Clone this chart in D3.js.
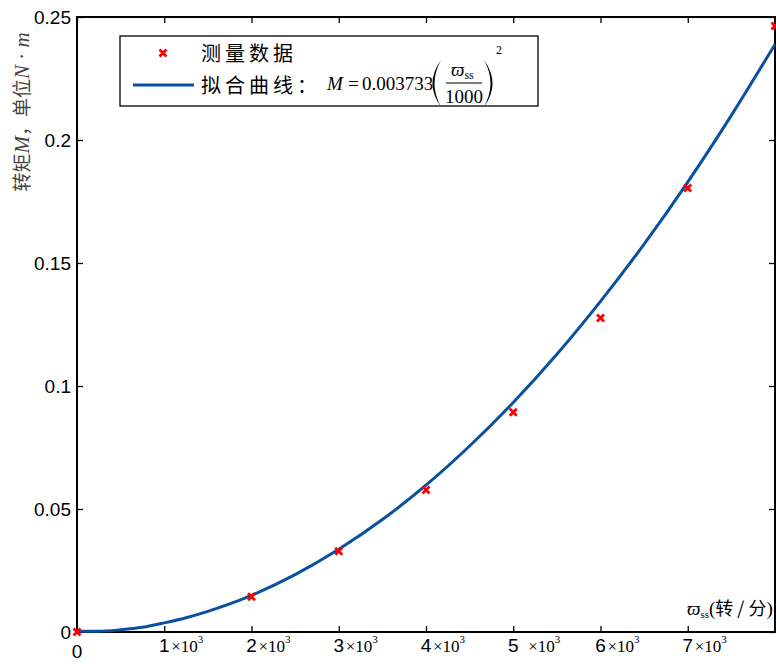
<!DOCTYPE html>
<html><head><meta charset="utf-8">
<script src="https://cdn.jsdelivr.net/npm/d3@7"></script>
<style>body{margin:0;background:#fff}svg{display:block}</style>
</head><body>
<script>
// measured data
const measSpeed = [0, 2000, 3000, 4000, 5000, 6000, 7000, 8000];
const measTorque = [0, 0.0143, 0.0328, 0.0577, 0.0893, 0.1276, 0.1805, 0.2463];
// fitted curve
const fitSpeed = [0, 250, 500, 750, 1000, 1250, 1500, 1750, 2000, 2500, 3000, 3500, 4000, 4500, 5000, 5500, 6000, 6500, 7000, 7500, 8000];
const fitTorque = [0.0003, 0.0003, 0.0009, 0.0019, 0.0037, 0.0058, 0.0084, 0.0114, 0.0149, 0.0233, 0.0336, 0.0457, 0.0597, 0.0756, 0.0933, 0.1129, 0.1344, 0.1577, 0.1829, 0.2100, 0.2389];
const xTicks = [0, 1000, 2000, 3000, 4000, 5000, 6000, 7000, 8000];
const xTickLabels = ["0", "1", "2", "3", "4", "5", "6", "7"];
const yTicks = [0, 0.05, 0.1, 0.15, 0.2, 0.25];
const yTickLabels = ["0", "0.05", "0.1", "0.15", "0.2", "0.25"];

const W = 776, H = 664;
const svg = d3.select("body").append("svg").attr("width", W).attr("height", H);
const x = d3.scaleLinear().domain([0, 8000]).range([77, 775]);
const y = d3.scaleLinear().domain([0, 0.25]).range([632, 17]);
const serif = "Liberation Serif, Times New Roman, serif";
const sans = "Liberation Sans, Arial, sans-serif";
const cjk = "Noto Sans CJK SC";

// axes with inward ticks
const axStyle = g => { g.select(".domain").remove(); g.selectAll("line").attr("stroke", "#000").attr("stroke-width", 1.3); g.selectAll("text").remove(); };
svg.append("g").attr("transform", `translate(0,${y(0)})`).call(d3.axisBottom(x).tickValues(xTicks).tickSize(-6)).call(axStyle);
svg.append("g").attr("transform", `translate(0,${y(0.25)})`).call(d3.axisTop(x).tickValues(xTicks).tickSize(-6)).call(axStyle);
svg.append("g").attr("transform", `translate(${x(0)},0)`).call(d3.axisLeft(y).tickValues(yTicks).tickSize(-6)).call(axStyle);
svg.append("g").attr("transform", `translate(${x(8000)},0)`).call(d3.axisRight(y).tickValues(yTicks).tickSize(-6)).call(axStyle);

// frame
svg.append("rect").attr("x", x(0)).attr("y", y(0.25)).attr("width", x(8000) - x(0)).attr("height", y(0) - y(0.25))
  .attr("fill", "none").attr("stroke", "#000").attr("stroke-width", 2);

// y tick labels
svg.append("g").selectAll("text").data(yTicks).join("text")
  .attr("x", 71).attr("y", d => y(d)).attr("dy", "0.38em").attr("text-anchor", "end")
  .attr("font-family", sans).attr("font-size", 19).attr("fill", "#000")
  .text((d, i) => yTickLabels[i]);

// x tick labels
const xl = svg.append("g").selectAll("g").data(xTickLabels).join("g")
  .attr("transform", (d, i) => `translate(${x(xTicks[i])},${i === 0 ? 658 : 652})`);
xl.append("text").attr("text-anchor", "middle")
  .attr("font-family", sans).attr("font-size", 19).attr("fill", "#000")
  .text(d => d);
xl.filter((d, i) => i > 0).append("text").attr("x", d => d === "5" ? 15 : 7)
  .attr("font-family", serif).attr("font-size", 17).attr("fill", "#000")
  .call(t => { t.append("tspan").text("×10"); t.append("tspan").attr("dy", -9).attr("font-size", 11).text("3"); });

// fit curve
const line = d3.line().x((d, i) => x(fitSpeed[i])).y(d => y(d)).curve(d3.curveMonotoneX);
svg.append("path").datum(fitTorque).attr("d", line).attr("fill", "none").attr("stroke", "#0a50a0").attr("stroke-width", 3);

// markers
const mk = (g, s) => g.append("path").attr("d", `M${-s},${-s}L${s},${s}M${-s},${s}L${s},${-s}`)
  .attr("stroke", "#f00").attr("stroke-width", 2.8).attr("fill", "none");
svg.append("g").selectAll("g").data(measTorque).join("g")
  .attr("transform", (d, i) => `translate(${x(measSpeed[i])},${y(d)})`)
  .each(function () { mk(d3.select(this), 3.5); });

// axis label (x)
const xt = svg.append("text").attr("x", 687).attr("y", 615).attr("font-family", serif).attr("font-size", 19).attr("fill", "#000");
xt.append("tspan").attr("font-style", "italic").text("ϖ");
xt.append("tspan").attr("font-size", 11).attr("dy", 3).text("ss");
xt.append("tspan").attr("dy", -3).text("(");
xt.append("tspan").attr("font-family", cjk).attr("font-size", 18).text("转 / 分");
xt.append("tspan").text(")");

// axis label (y)
const yt = svg.append("text").attr("transform", "translate(29,112) rotate(-90)").attr("text-anchor", "middle")
  .attr("font-family", cjk).attr("font-size", 19).attr("fill", "#444");
yt.append("tspan").text("转矩");
yt.append("tspan").attr("font-family", serif).attr("font-style", "italic").attr("font-size", 21).text("M");
yt.append("tspan").text("，单位");
yt.append("tspan").attr("font-family", serif).attr("font-style", "italic").attr("font-size", 21).text("N");
yt.append("tspan").attr("font-family", serif).attr("font-size", 21).text(" · ");
yt.append("tspan").attr("font-family", serif).attr("font-style", "italic").attr("font-size", 21).text("m");

// legend
const lg = svg.append("g");
lg.append("rect").attr("x", 120).attr("y", 36).attr("width", 418).attr("height", 70).attr("fill", "#fff").attr("stroke", "#000").attr("stroke-width", 1.3);
mk(lg.append("g").attr("transform", "translate(163,53)"), 3.5);
lg.append("text").attr("x", 201).attr("y", 54).attr("dy", "0.36em").attr("font-family", cjk).attr("font-size", 20)
  .attr("letter-spacing", 4).text("测量数据");
lg.append("line").attr("x1", 133).attr("x2", 194).attr("y1", 85).attr("y2", 85).attr("stroke", "#0a50a0").attr("stroke-width", 3);
lg.append("text").attr("x", 201).attr("y", 86).attr("dy", "0.36em").attr("font-family", cjk).attr("font-size", 20)
  .attr("letter-spacing", 4).text("拟合曲线：");
// formula
lg.append("text").attr("x", 327).attr("y", 90).attr("font-family", serif).attr("font-size", 19).attr("font-style", "italic").text("M");
lg.append("text").attr("x", 348).attr("y", 90).attr("font-family", serif).attr("font-size", 19).text("=");
lg.append("text").attr("x", 362).attr("y", 90).attr("font-family", serif).attr("font-size", 19).text("0.003733");
lg.append("path").attr("d", "M441,60 Q424,83.5 441,107 Q428,83.5 441,60Z").attr("fill", "#000");
lg.append("path").attr("d", "M484,60 Q501,83.5 484,107 Q497,83.5 484,60Z").attr("fill", "#000");
lg.append("text").attr("x", 496).attr("y", 54).attr("font-family", serif).attr("font-size", 12).text("2");
lg.append("text").attr("x", 451).attr("y", 76).attr("font-family", serif).attr("font-size", 19)
  .call(t => { t.append("tspan").attr("font-style", "italic").text("ϖ"); t.append("tspan").attr("font-size", 12).attr("dy", 3).text("ss"); });
lg.append("line").attr("x1", 446).attr("x2", 482).attr("y1", 83).attr("y2", 83).attr("stroke", "#000").attr("stroke-width", 1);
lg.append("text").attr("x", 464).attr("y", 103).attr("text-anchor", "middle").attr("font-family", serif).attr("font-size", 19).text("1000");
</script>
</body></html>
